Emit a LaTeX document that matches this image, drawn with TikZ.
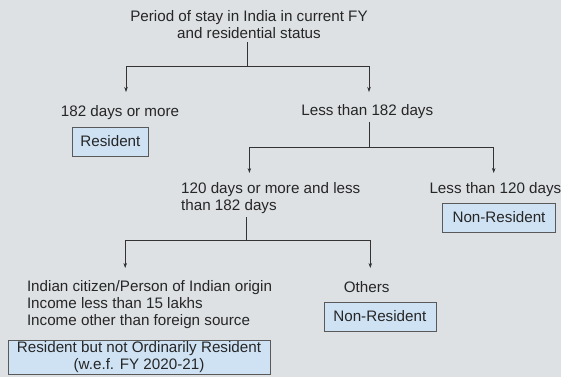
\documentclass[tikz,border=0pt]{standalone}
\usepackage{fontspec}
\setmainfont{Liberation Sans}
\usepackage{xcolor}
\usepackage{tikz}
\usetikzlibrary{arrows.meta}

\definecolor{bggray}{RGB}{221,225,228}
\definecolor{boxblue}{RGB}{207,226,243}
\definecolor{linegray}{RGB}{51,51,51}

\begin{document}
\begin{tikzpicture}[
        x=1pt, y=-1pt,
        every node/.style={font=\fontsize{15.2}{17}\selectfont, text=black!85, inner sep=3pt},
        caption/.style={align=center, yshift=-1.5pt},
        leftcaption/.style={align=left, anchor=west, yshift=-1.5pt},
        status/.style={draw=black!65, fill=boxblue, minimum height=29pt, inner xsep=6pt},
        arr/.style={-{Stealth[length=5pt,width=3.5pt]}, draw=linegray, line width=0.6pt},
        link/.style={draw=linegray, line width=0.6pt}
    ]
    \useasboundingbox[fill=bggray] (0,0) rectangle (561,377);

    % Root
    \node[caption] (period) at (249,23.5) {Period of stay in India in current FY\\and residential status};

    % First split (182 days)
    \node[caption] (more182) at (120,111) {182 days or more};
    \node[status, minimum width=76pt] (resident) at (110.4,141.5) {Resident};
    \node[caption] (less182) at (367.3,110) {Less than 182 days};

    % Second split (120 days)
    \node[leftcaption] (mid120) at (178,197) {120 days or more and less\\than 182 days};
    \node[leftcaption] (less120) at (426.3,188) {Less than 120 days};
    \node[status, minimum width=113pt] (nonres1) at (499,217.5) {Non-Resident};

    % Third split (citizen or others)
    \node[leftcaption] (citizen) at (23.8,303) {Indian citizen/Person of Indian origin\\Income less than 15 lakhs\\Income other than foreign source};
    \node[caption] (others) at (366.7,286) {Others};
    \node[status, minimum width=112pt] (nonres2) at (379.8,316.3) {Non-Resident};
    \node[status, align=center, minimum width=262pt, minimum height=34pt, inner ysep=1pt] (rnor) at (139,357.5)
        {Resident but not Ordinarily Resident\\(w.e.f. FY 2020-21)};

    % Junctions and arrow ends
    \coordinate (j1) at (247,66);
    \coordinate (j2) at (369.5,147);
    \coordinate (j3) at (246.2,240);
    \coordinate (to182) at (126,92);
    \coordinate (toless182) at (369,92);
    \coordinate (to120) at (249.4,173);
    \coordinate (toless120) at (493.7,173);
    \coordinate (tocitizen) at (125.2,268);
    \coordinate (toothers) at (370.3,268);

    % Connectors
    \draw[link] (j1 |- period.south) -- (j1);
    \draw[arr] (j1) -| (to182);
    \draw[arr] (j1) -| (toless182);
    \draw[link] (j2 |- less182.south) -- (j2);
    \draw[arr] (j2) -| (to120);
    \draw[arr] (j2) -| (toless120);
    \draw[link] (j3 |- mid120.south) -- (j3);
    \draw[arr] (j3) -| (tocitizen);
    \draw[arr] (j3) -| (toothers);

\end{tikzpicture}
\end{document}
